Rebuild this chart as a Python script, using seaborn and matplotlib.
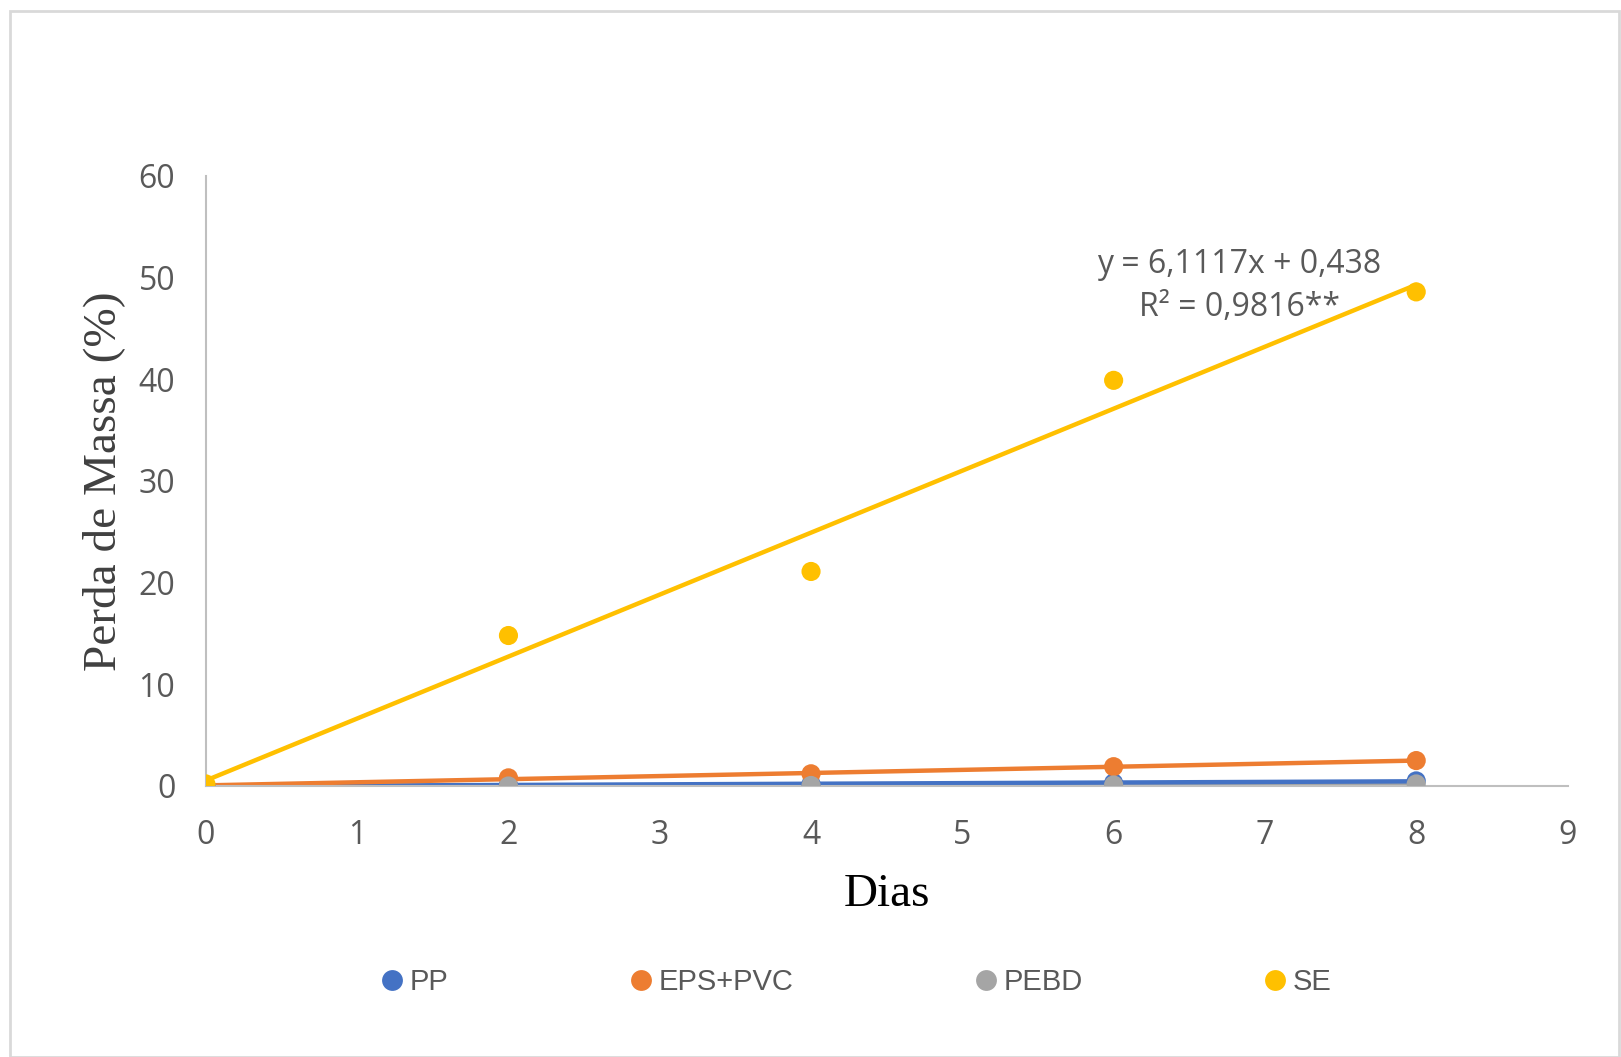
import numpy as np
import pandas as pd
import seaborn as sns
import matplotlib.pyplot as plt
from matplotlib.lines import Line2D
from matplotlib.patches import Rectangle

# Data
dias = [0, 2, 4, 6, 8]
pp = [0.0, 0.1, 0.2, 0.3, 0.5]
eps_pvc = [0.0, 0.8, 1.2, 1.9, 2.5]
pebd = [0.0, 0.0, 0.05, 0.1, 0.2]
se = [0.2, 14.8, 21.1, 39.9, 48.6]

series = ['PP', 'EPS+PVC', 'PEBD', 'SE']
colors = {'PP': '#4472C4', 'EPS+PVC': '#ED7D31', 'PEBD': '#A5A5A5', 'SE': '#FFC000'}

df = pd.DataFrame({'Dias': dias * 4,
                   'Perda': pp + eps_pvc + pebd + se,
                   'Material': sum([[s] * len(dias) for s in series], [])})

sns.set_style('white')
plt.rcParams['font.family'] = ['Open Sans', 'DejaVu Sans']

fig = plt.figure(figsize=(16.21, 10.57), dpi=100)
ax = fig.add_axes([0.127, 0.2564, 0.967 - 0.127, 0.8335 - 0.2564])

# outer border like the Excel chart area
fig.patches.append(Rectangle((10 / 1621, 0), (1619 - 10) / 1621, 1 - 11 / 1057,
                             transform=fig.transFigure, fill=False,
                             edgecolor='#D9D9D9', linewidth=2, zorder=0))

# trend lines
for s in ['PEBD', 'PP', 'EPS+PVC', 'SE']:
    sub = df[df['Material'] == s]
    sns.regplot(data=sub, x='Dias', y='Perda', ax=ax, scatter=False, ci=None,
                color=colors[s], line_kws={'linewidth': 3.2, 'zorder': 2})

# points
for s in ['PP', 'EPS+PVC', 'PEBD', 'SE']:
    sub = df[df['Material'] == s]
    sns.scatterplot(data=sub, x='Dias', y='Perda', ax=ax, color=colors[s],
                    s=190, edgecolor='none', zorder=3, legend=False)

ax.set_xlim(0, 9)
ax.set_ylim(0, 60)
ax.set_xticks(range(0, 10))
ax.set_yticks(range(0, 61, 10))
ax.tick_params(axis='both', length=0, labelsize=23, labelcolor='#595959')
ax.tick_params(axis='x', pad=24)
ax.tick_params(axis='y', pad=22)
for side in ['top', 'right']:
    ax.spines[side].set_visible(False)
for side in ['left', 'bottom']:
    ax.spines[side].set_color('#BFBFBF')
    ax.spines[side].set_linewidth(1.5)
ax.grid(False)

ax.set_xlabel('Dias', fontsize=34, family=['Liberation Serif'], color='black', labelpad=15)
ax.set_ylabel('Perda de Massa (%)', fontsize=34, family=['Liberation Serif'], color='#404040', labelpad=10)

ax.text(6.83, 49.2, 'y = 6,1117x + 0,438\nR² = 0,9816**', fontsize=23, color='#595959',
        ha='center', va='center', linespacing=1.4)

handles = [Line2D([], [], linestyle='none', marker='o', markersize=15,
                  markerfacecolor=colors[s], markeredgecolor='none') for s in series]
leg = fig.legend(handles, series, loc='center', bbox_to_anchor=(0.529, 0.071), ncol=4,
                 frameon=False, handlelength=0.6, handletextpad=0.3, columnspacing=6.3,
                 prop={'family': ['Liberation Sans Narrow', 'Liberation Sans'], 'size': 21})
for t in leg.get_texts():
    t.set_color('#595959')

fig.savefig('out.png', dpi=100, facecolor='white')
